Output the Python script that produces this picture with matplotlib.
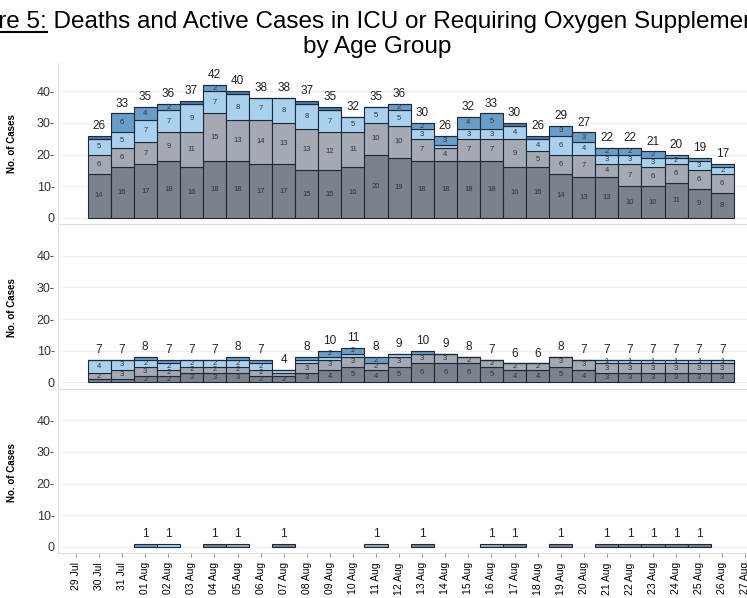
import numpy as np
import matplotlib.pyplot as plt
from datetime import date, timedelta

plt.rcParams['font.family'] = ['Liberation Sans', 'DejaVu Sans']

# dates 30 Jul .. 26 Aug (bars), ticks 29 Jul .. 27 Aug
start = date(2021, 7, 30)
dates = [start + timedelta(days=i) for i in range(28)]
tick_labels = [(date(2021, 7, 29) + timedelta(days=i)).strftime('%d %b') for i in range(30)]

# top panel
top = [
    [14, 16, 17, 18, 16, 18, 18, 17, 17, 15, 15, 16, 20, 19, 18, 18, 18, 18, 16, 16, 14, 13, 13, 10, 10, 11, 9, 8],
    [6, 6, 7, 9, 11, 15, 13, 14, 13, 13, 12, 11, 10, 10, 7, 4, 7, 7, 9, 5, 6, 7, 4, 7, 6, 6, 6, 6],
    [5, 5, 7, 7, 9, 7, 8, 7, 8, 8, 7, 5, 5, 5, 3, 1, 3, 3, 4, 4, 6, 4, 3, 3, 3, 2, 3, 2],
    [0, 6, 4, 2, 0, 2, 0, 0, 0, 0, 0, 0, 0, 2, 2, 3, 4, 5, 0, 0, 3, 3, 2, 2, 2, 1, 1, 1],
    [1, 0, 0, 0, 1, 0, 1, 0, 0, 1, 1, 0, 0, 0, 0, 0, 0, 0, 1, 1, 0, 0, 0, 0, 0, 0, 0, 0],
]
# middle panel
mid = [
    [1, 1, 2, 2, 3, 3, 3, 2, 2, 3, 4, 5, 4, 5, 6, 6, 6, 5, 4, 4, 5, 4, 3, 3, 3, 3, 3, 3],
    [2, 3, 3, 2, 2, 2, 2, 2, 1, 3, 3, 3, 2, 3, 3, 3, 2, 2, 2, 2, 3, 3, 3, 3, 3, 3, 3, 3],
    [4, 3, 2, 2, 2, 2, 2, 2, 1, 1, 1, 1, 0, 1, 0, 0, 0, 0, 0, 0, 0, 0, 1, 1, 1, 1, 1, 1],
    [0, 0, 1, 1, 0, 0, 1, 1, 0, 1, 2, 2, 2, 0, 1, 0, 0, 0, 0, 0, 0, 0, 0, 0, 0, 0, 0, 0],
    [0] * 28,
]
# bottom panel: one case on some days, group index
bottom_days = [2, 3, 5, 6, 8, 12, 14, 17, 18, 20, 22, 23, 24, 25, 26]
bottom_group = [3, 2, 0, 1, 0, 1, 0, 1, 0, 0, 0, 0, 0, 0, 0]

colors = ['#7b818d', '#a4a9b4', '#a9d1ee', '#6a9cc8', '#4b79aa']

fig = plt.figure(figsize=(7.47, 5.98), dpi=100)
axes = [fig.add_axes([0.077, 0.625 - i * 0.275, 0.93, 0.27]) for i in range(3)]
x = np.arange(1, 29)  # index 0 = 29 Jul

def style(ax):
    ax.set_xlim(-0.8, 29.3)
    ax.set_ylim(-2, 49)
    ax.set_yticks([0, 10, 20, 30, 40])
    ax.set_yticklabels(['0', '10-', '20-', '30-', '40-'], fontsize=9, color='#333333')
    ax.tick_params(axis='y', length=0, pad=2)
    ax.grid(axis='y', color='#eeeeee', lw=0.8)
    ax.set_axisbelow(True)
    for s in ['top', 'right']:
        ax.spines[s].set_visible(False)
    ax.spines['left'].set_color('#dddddd')
    ax.spines['bottom'].set_color('#dddddd')
    ax.set_ylabel('No. of Cases', fontsize=7, fontweight='bold', labelpad=14)

def draw_stack(ax, data, big):
    bottom = np.zeros(28)
    for k, vals in enumerate(data):
        vals = np.array(vals)
        ax.bar(x, vals, bottom=bottom, width=1.0, color=colors[k], edgecolor='#1e2a38', linewidth=0.8)
        for i, v in enumerate(vals):
            if v >= 2 or (not big and k == 2 and v == 1 and i >= 22):
                ax.text(x[i], bottom[i] + v / 2, str(v), ha='center', va='center', fontsize=5.5, color='#333333')
        bottom += vals
    for i, t in enumerate(bottom):
        ax.text(x[i], t + 1.2, str(int(t)), ha='center', va='bottom', fontsize=8.5, color='#222222')

draw_stack(axes[0], top, True)
draw_stack(axes[1], mid, False)

for d, g in zip(bottom_days, bottom_group):
    axes[2].bar(d + 1, 1, width=1.0, color=colors[g], edgecolor='#1e2a38', linewidth=0.8)
    axes[2].text(d + 1, 2.2, '1', ha='center', va='bottom', fontsize=8.5, color='#222222')

for i, ax in enumerate(axes):
    style(ax)
    ax.set_xticks(np.arange(30))
    if i < 2:
        ax.tick_params(axis='x', length=0, labelbottom=False)
    else:
        ax.set_xticklabels(tick_labels, rotation=90, fontsize=7.5)
        ax.tick_params(axis='x', length=3, color='#999999')

# title, deliberately wider than the figure like the source crop
head = 'Figure 5:'
t1 = fig.text(0.513, 0.963, head + ' Deaths and Active Cases in ICU or Requiring Oxygen Supplementation',
              ha='center', va='center', fontsize=17.5)
fig.text(0.505, 0.922, 'by Age Group', ha='center', va='center', fontsize=17.5)

fig.canvas.draw()
r = fig.canvas.get_renderer()
bb = t1.get_window_extent(r)
probe = fig.text(0, 0, head, fontsize=17.5)
w = probe.get_window_extent(r).width
probe.remove()
W, H = fig.bbox.width, fig.bbox.height
fig.add_artist(plt.Line2D([bb.x0 / W, (bb.x0 + w) / W], [(bb.y0 + 1) / H] * 2,
                          color='black', lw=1.5))

fig.savefig('out.png', dpi=100)
